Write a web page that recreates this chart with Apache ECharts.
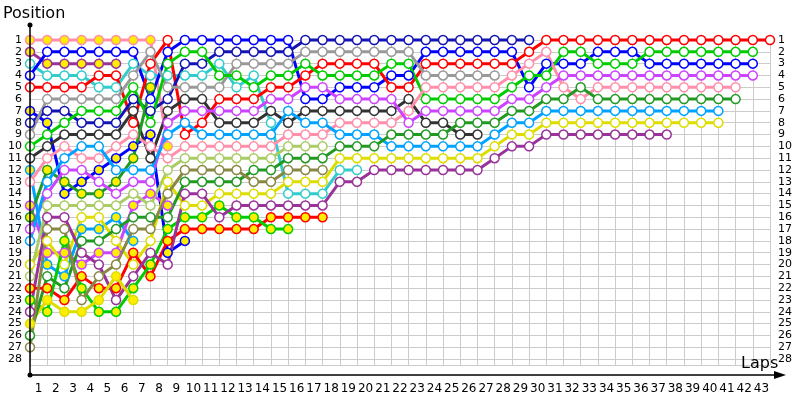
<!DOCTYPE html>
<html>
<head>
<meta charset="utf-8">
<script src="https://cdn.jsdelivr.net/npm/echarts@6/dist/echarts.min.js"></script>
<style>
  html, body { margin: 0; padding: 0; background: #fff; }
  #chart { width: 800px; height: 400px; }
</style>
</head>
<body>
<div id="chart"></div>
<script>
// lap labels under the axis (centred between laps)
var lapLabels = ['1','2','3','4','5','6','7','8','9','10','11','12','13','14','15','16','17','18','19','20',
  '21','22','23','24','25','26','27','28','29','30','31','32','33','34','35','36','37','38','39','40','41','42','43'];

// position per lap (index 0 = grid), one array per car
var posA = [1,1,1,1,1,1,1,1,10];
var posB = [2,3,3,3,3,3];
var posC = [3,4,4,4,5,5,3,4,4,4, 4,3,5,4,8,14,14,14,12,12];
var posD = [4,2,2,2,2,2,2,6,2,1, 1,1,1,1,1,1,6,6,5,5, 5,4,4,2,2,2,2,2,2,5, 3,3,3,2,2,2,3,3,3,3, 3,3,3];
var posE = [5,5,5,5,4,4,8,3,1,9, 8,6,6,6,5,5,4,3,3,3, 3,5,5,3,3,3,3,3,3,2, 1,1,1,1,1,1,1,1,1,1, 1,1,1,1];
var posF = [7,8,14,13,12,11,10,9,19,18];
var posG = [8,7,7,8,8,8,6,7,6,3, 3,2,2,2,2,2,1,1,1,1, 1,1,1,1,1,1,1,1,1,1];
var posH = [9,6,6,6,6,6,4,2,5,5, 5,5,3,3,3,3,2,2,2,2, 2,2,2,4,4,4,4,4];
var posI = [10,9,8,7,7,7,5,8,3,2, 2,4,4,5,4,4,3,4,4,4, 4,3,3,6,6,6,6,6,5,4, 4,2,2,3,3,3,2,2,2,2, 2,2,2];
var posJ = [11,10,9,9,9,9,7,11,7,6, 6,8,8,8,7,8,7,7,7,7, 7,7,6,8,8,9,9];
var posK = [12,20,21,17,17,16,18];
var posL = [13,11,10,11,11,10,9,10,11,10, 10,10,10,10,10,9,9,9,8,8, 8,8,7,5,5,5,5,5,4,3, 2,5,6,5,5,5,5,5,5,5, 5,5];
var posM = [15,19,19,20,19,19,15,14,15];
var posN = [16,12,13,14,14,13,11,5];
var posO = [17,14,12,12,13,14,13,13,8,7, 7,7,7,7,6,6,5,5,6,6, 6,6,8,7,7,7,7,7,6,6, 5,4,4,4,4,4,4,4,4,4, 4,4,4];
var posP = [18,13,11,10,10,12,12,12,9,8, 9,9,9,9,9,7,8,8,9,9, 9,10,10,10,10,10,10,9,8,8, 7,7,7,7,7,7,7,7,7,7, 7];
var posQ = [20,18,20,16,16,18,20,18,13,15, 15,14,14,14,14,13,13,13,11,11, 11,11,11,11,11,11,11,10,9,9, 8,8,8,8,8,8,8,8,8,8, 8];
var posR = [21,15,15,15,15,15,14,15,12,11, 11,11,11,11,11,10,10,10];
var posS = [22,22,23,21,22,22,19,21,18,17, 17,17,17,17,16,16,16,16];
var posT = [23,24,18,22,24,24,22,20,17,16, 16,15,16,16,17,17];
var posU = [24,16,16,19,20,23,21,19,20,14, 14,16,15,15,15,15,15,15,13,13, 12,12,12,12,12,12,12,11,10,10, 9,9,9,9,9,9,9,9];
var posV = [25,23,24,24,23,21,23];
var posW = [26,21,22,18,18,17,16,16,16,13, 13,13,13,12,12,11,11,11,10,10, 10,9,9,9,9,8,8,8,7,7, 6,6,5,6,6,6,6,6,6,6, 6,6];
var posX = [27,17,17,23,21,20,17,17,14,12, 12,12,12,13,13,12,12,12];

var yellow = '#ffee00';
var cars = [
  {d: posA, line: '#ff8fab', fill: yellow},
  {d: posB, line: '#993399', fill: yellow},
  {d: posC, line: '#33cccc', fill: '#fff'},
  {d: posD, line: '#0000ff', fill: '#fff'},
  {d: posE, line: '#ff0000', fill: '#fff'},
  {d: posF, line: '#0000ff', fill: yellow},
  {d: posG, line: '#1414b4', fill: '#fff'},
  {d: posH, line: '#999999', fill: '#fff'},
  {d: posI, line: '#00cc00', fill: '#fff'},
  {d: posJ, line: '#333333', fill: '#fff'},
  {d: posK, line: '#00a2ff', fill: yellow},
  {d: posL, line: '#ff8fab', fill: '#fff'},
  {d: posM, line: '#cc44ff', fill: yellow},
  {d: posN, line: '#229922', fill: yellow},
  {d: posO, line: '#cc44ff', fill: '#fff'},
  {d: posP, line: '#00a2ff', fill: '#fff'},
  {d: posQ, line: '#dddd00', fill: '#fff'},
  {d: posR, line: '#aacc66', fill: '#fff'},
  {d: posS, line: '#ff0000', fill: yellow},
  {d: posT, line: '#00cc00', fill: yellow},
  {d: posU, line: '#993399', fill: '#fff'},
  {d: posV, line: '#dddd00', fill: yellow},
  {d: posW, line: '#229922', fill: '#fff'},
  {d: posX, line: '#888844', fill: '#fff'}
];

var chart = echarts.init(document.getElementById('chart'));
var fontFam = 'DejaVu Sans';

var series = cars.map(function (c) {
  return {
    type: 'line',
    data: c.d.map(function (p, i) { return [i, p]; }),
    symbol: 'circle',
    symbolSize: 9,
    clip: false,
    lineStyle: {color: c.line, width: 3},
    itemStyle: {color: c.fill, borderColor: c.line, borderWidth: 1.5}
  };
});

var option = {
  animation: false,
  grid: {left: 30, right: 30, top: 40, bottom: 35},
  xAxis: [
    {
      type: 'value', min: 0, max: 43, interval: 1,
      axisLine: {show: false}, axisTick: {show: false}, axisLabel: {show: false},
      splitLine: {show: true, lineStyle: {color: '#cccccc', width: 1}}
    },
    {
      type: 'category', data: lapLabels, boundaryGap: true, position: 'bottom',
      axisLine: {show: false}, axisTick: {show: false}, splitLine: {show: false},
      axisLabel: {color: '#000', fontFamily: fontFam, fontSize: 12, margin: 18, interval: 0}
    }
  ],
  yAxis: [
    {
      type: 'value', inverse: true, min: 1, max: 28.5, interval: 1, position: 'left',
      axisLine: {show: false}, axisTick: {show: false},
      axisLabel: {color: '#000', fontFamily: fontFam, fontSize: 11, margin: 8,
        formatter: function (v) { return v <= 28 ? v : ''; }},
      splitLine: {show: true, lineStyle: {color: '#cccccc', width: 1}}
    },
    {
      type: 'value', inverse: true, min: 1, max: 28.5, interval: 1, position: 'right',
      axisLine: {show: false}, axisTick: {show: false}, splitLine: {show: false},
      axisLabel: {color: '#000', fontFamily: fontFam, fontSize: 11, margin: 8,
        formatter: function (v) { return v <= 28 ? v : ''; }}
    }
  ],
  graphic: [
    {type: 'line', shape: {x1: 30, y1: 25, x2: 30, y2: 375}, style: {stroke: '#000', lineWidth: 1.5}, z: 100},
    {type: 'line', shape: {x1: 30, y1: 375, x2: 776, y2: 375}, style: {stroke: '#000', lineWidth: 1.5}, z: 100},
    {type: 'polygon', shape: {points: [[786, 375], [774, 371], [774, 379]]}, style: {fill: '#000'}, z: 100},
    {type: 'circle', shape: {cx: 30, cy: 25, r: 2.5}, style: {fill: '#000'}, z: 100},
    {type: 'circle', shape: {cx: 30, cy: 375, r: 2.5}, style: {fill: '#000'}, z: 100},
    {type: 'text', left: 3, top: 6, style: {text: 'Position', fill: '#000', font: '16px "DejaVu Sans"'}, z: 100},
    {type: 'text', left: 741, top: 356, style: {text: 'Laps', fill: '#000', font: '16px "DejaVu Sans"'}, z: 100}
  ],
  series: series
};

chart.setOption(option);
</script>
</body>
</html>
